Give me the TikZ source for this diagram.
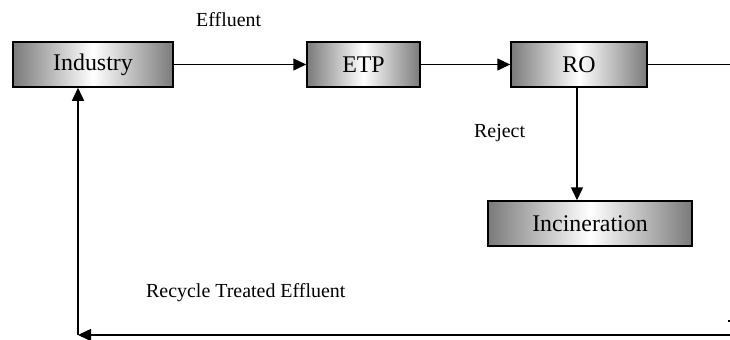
\documentclass[tikz,border=0pt]{standalone}
\usepackage{fontspec}
\setmainfont{Liberation Serif}
\usetikzlibrary{arrows.meta}
\begin{document}
\begin{tikzpicture}[x=1bp,y=-1bp,
  procbox/.style={draw=black, line width=1.5bp, left color=black!52, right color=black!52, middle color=white,
    minimum height=45bp, inner sep=0pt, font=\fontsize{24}{28}\selectfont},
  lbl/.style={anchor=base west, inner sep=0pt, font=\fontsize{20}{24}\selectfont},
  flow/.style={line width=1.5bp, -{Triangle[length=13bp,width=12bp]}},
  plain/.style={line width=1.5bp}]
\useasboundingbox (0,0) rectangle (730,339);
\node[procbox, minimum width=160bp] (ind) at (93,64.5) {Industry};
\node[procbox, minimum width=113bp] (etp) at (363.5,64.5) {ETP};
\node[procbox, minimum width=136bp] (ro) at (579,64.5) {RO};
\node[procbox, minimum width=204bp] (inc) at (590,223.5) {Incineration};
\coordinate (rend) at (730,64.5);
\coordinate (bend) at (730,335);
\coordinate (corner) at (78,335);
\draw[flow] (ind) -- (etp);
\draw[flow] (etp) -- (ro);
\draw[plain] (ro) -- (rend);
\draw[flow] (ro.south -| 577,0) -- (577,0 |- inc.north);
\draw[flow] (bend) -- (corner);
\draw[flow] (corner) -- (corner |- ind.south);
\node[lbl] (l1) at (196,26) {Effluent};
\node[lbl] (l2) at (474,137) {Reject};
\node[lbl] (l3) at (146,297) {Recycle Treated Effluent};
\fill (728,320) rectangle (730,322);
\end{tikzpicture}
\end{document}
